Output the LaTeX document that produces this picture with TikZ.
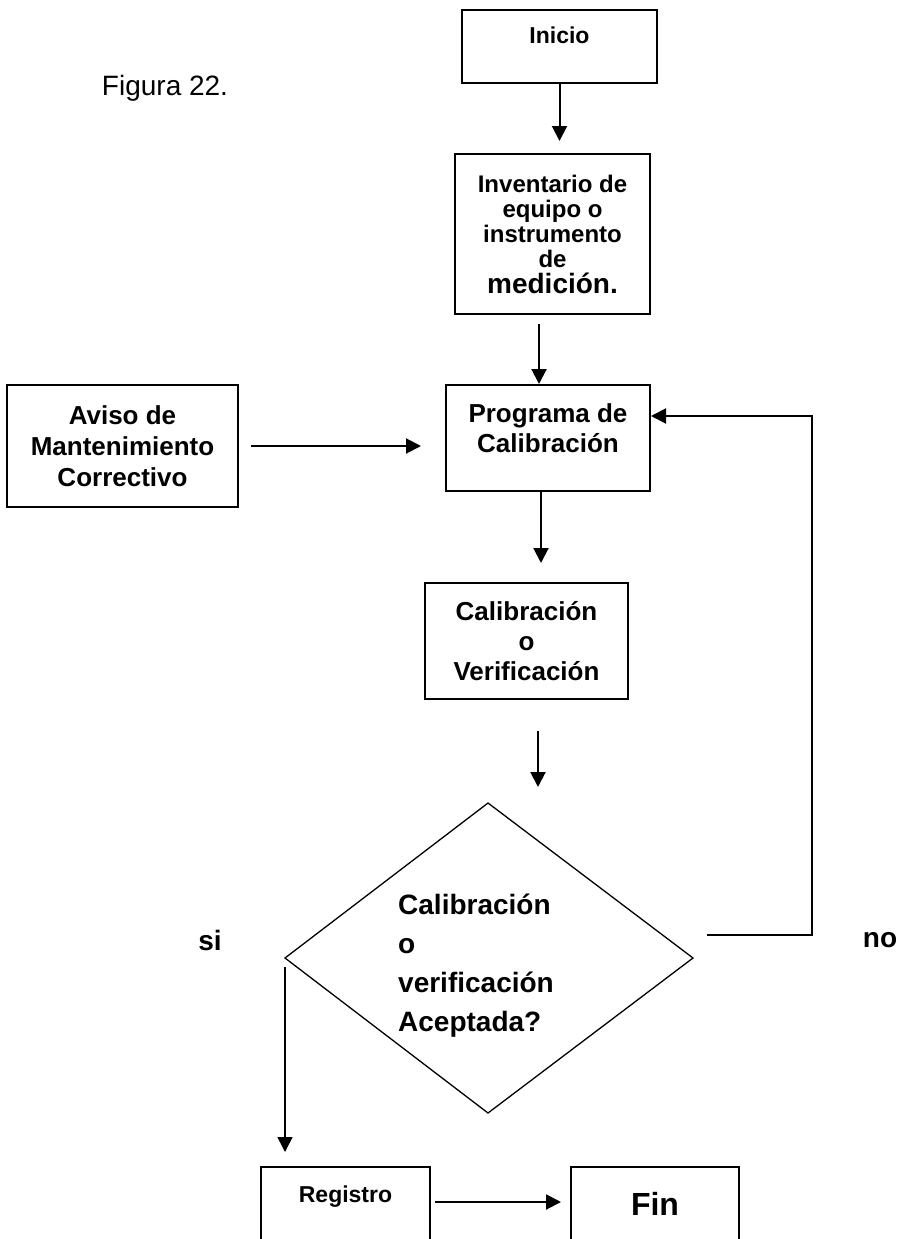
\documentclass[tikz,border=0pt]{standalone}
\usepackage{fontspec}
\setmainfont{Liberation Sans}
\usetikzlibrary{arrows.meta,positioning}

\tikzset{
  box/.style={draw,line width=2pt,align=center,inner sep=0pt,font=\bfseries\fontsize{26}{30}\selectfont},
  arr/.style={-{Triangle[length=15pt,width=15pt]},line width=2pt},
  lbl/.style={font=\bfseries\fontsize{28}{39}\selectfont}
}

\begin{document}
\begin{tikzpicture}[x=1pt,y=-1pt]
  \clip (0,0) rectangle (901,1239);
	\node[font=\fontsize{28}{34}\selectfont] (fig) at (165,88) {Figura 22.};
	\node[box,minimum width=195pt,minimum height=73pt,text depth=23pt,font=\bfseries\fontsize{23}{28}\selectfont] (inicio) at (559.5,46.5) {Inicio};
	\node[box,minimum width=195pt,minimum height=160pt,font=\bfseries\fontsize{24}{25}\selectfont] (inventario) at (552.5,234)
	  {Inventario de\\ equipo o\\ instrumento\\ de\\[1pt] {\fontsize{28}{28}\selectfont medición.}};
	\node[box,minimum width=231pt,minimum height=122pt,font=\bfseries\fontsize{26}{31}\selectfont] (aviso) at (122.5,446)
	  {Aviso de\\ Mantenimiento\\ Correctivo};
	\node[box,minimum width=204pt,minimum height=106pt,text depth=20pt] (programa) at (548,438) {Programa de\\ Calibración};
	\node[box,minimum width=203pt,minimum height=116pt] (calib) at (526.5,641) {Calibración\\ o\\ Verificación};
	% decision
	\coordinate (dtop) at (488,803);
	\coordinate (dright) at (693,958);
	\coordinate (dbot) at (488,1113);
	\coordinate (dleft) at (285,958);
	\draw[line width=1.3pt] (dtop) -- (dright) -- (dbot) -- (dleft) -- cycle;
	\node[lbl,align=left,anchor=west,inner sep=0pt] (pregunta) at (398,966)
	  {Calibración\\ o\\ verificación\\ Aceptada?};
	\node[lbl] (si) at (210,940) {si};
	\node[lbl] (no) at (880,940) {no};
	\node[box,minimum width=169pt,minimum height=100pt,text depth=45pt,font=\bfseries\fontsize{23}{28}\selectfont] (registro) at (345.5,1217) {Registro};
	\node[box,minimum width=168pt,minimum height=100pt,text depth=26pt,font=\bfseries\fontsize{32}{38}\selectfont] (fin) at (655,1217) {Fin};
	% connectors
	\coordinate (p1) at ([xshift=-9pt]programa.north);
	\coordinate (p2) at ([xshift=-7pt]programa.south);
	\coordinate (c1) at ([xshift=11.5pt]calib.south);
	\coordinate (no0) at (707,935);
	\coordinate (loop) at (812,935);
	\coordinate (r1) at ([shift={(0,-15)}]registro.east);
	\draw[arr,shorten >=12pt] (inicio.south) to (inicio.south |- inventario.north);
	\draw[arr,shorten <=9pt] (p1 |- inventario.south) to (p1);
	\draw[arr,shorten <=12pt,shorten >=24pt] (aviso.east) to (aviso.east -| programa.west);
	\draw[arr,shorten >=19pt] (p2) to (p2 |- calib.north);
	\draw[arr,shorten <=31pt,shorten >=16pt] (c1) to (c1 |- dtop);
	\draw[arr] (no0) -- (loop) |- ([shift={(0,-22)}]programa.east);
	\draw[arr,line width=1.5pt,shorten <=9pt,shorten >=14pt] (dleft) to (dleft |- registro.north);
	\draw[arr,shorten <=4pt,shorten >=9pt] (r1) to (r1 -| fin.west);
\end{tikzpicture}
\end{document}
